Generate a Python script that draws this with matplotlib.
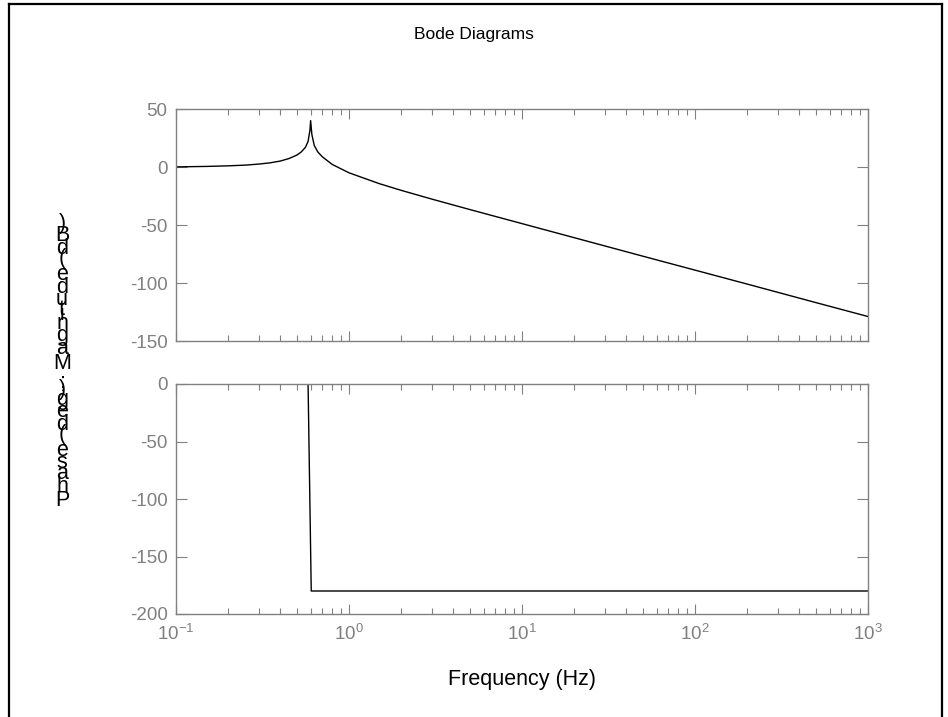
import matplotlib
matplotlib.use('Agg')
import matplotlib.pyplot as plt
from matplotlib.lines import Line2D
from matplotlib.ticker import LogLocator, NullFormatter
from matplotlib import font_manager

plt.rcParams['font.family'] = ['Liberation Sans', 'DejaVu Sans']
plt.rcParams['mathtext.default'] = 'regular'
plt.rcParams['axes.unicode_minus'] = False

# values
mag_freq = [0.1, 0.15, 0.2, 0.25, 0.3, 0.35, 0.4, 0.45, 0.5, 0.53, 0.56, 0.58,
            0.595, 0.6, 0.61, 0.63, 0.66, 0.7, 0.8, 1.0, 1.5, 2, 3, 5, 10,
            20, 50, 100, 200, 500, 1000]
mag_db = [0.1, 0.5, 1.0, 1.6, 2.5, 3.6, 5.1, 7.3, 10.3, 13.0, 17.0, 22.0,
          32.0, 40.0, 28.0, 18.5, 13.0, 8.9, 2.2, -5.0, -14.4, -20.1, -27.6,
          -36.7, -48.8, -60.9, -76.9, -88.9, -100.9, -116.9, -128.9]

phase_freq = [0.1, 0.58, 0.605, 1000]
phase_deg = [0, 0, -180, -180]

mag_ticks = [-150, -100, -50, 0, 50]
phase_ticks = [-200, -150, -100, -50, 0]

title = 'Bode Diagrams'
xlabel = 'Frequency (Hz)'
ylabel = 'Phase (deg); Magnitude (dB)'

grey = '#808080'
W, H = 948, 717
fig = plt.figure(figsize=(W / 100, H / 100), dpi=100)


def px(x0, y0, x1, y1):
    # pixel box (left, top, right, bottom) -> figure rect
    return [x0 / W, 1 - y1 / H, (x1 - x0) / W, (y1 - y0) / H]


ax1 = fig.add_axes(px(176, 109, 868, 341))
ax2 = fig.add_axes(px(176, 384, 868, 614))

ax1.plot(mag_freq, mag_db, color='black', lw=1.0)
ax2.plot(phase_freq, phase_deg, color='black', lw=1.0)

for ax, ticks in ((ax1, mag_ticks), (ax2, phase_ticks)):
    ax.set_xscale('log')
    ax.set_xlim(0.1, 1000)
    ax.set_ylim(ticks[0], ticks[-1])
    ax.set_yticks(ticks)
    ax.xaxis.set_major_locator(LogLocator(base=10, numticks=10))
    ax.xaxis.set_minor_locator(LogLocator(base=10, subs=range(2, 10), numticks=10))
    ax.xaxis.set_minor_formatter(NullFormatter())
    ax.tick_params(which='both', direction='in', top=True, right=True,
                   colors=grey, labelcolor=grey, labelsize=13.5, width=0.8)
    ax.tick_params(which='major', length=7)
    ax.tick_params(which='minor', length=4)
    ax.tick_params(axis='y', which='major', length=8, pad=6)
    ax.tick_params(axis='x', which='major', pad=7)
    for sp in ax.spines.values():
        sp.set_color(grey)
        sp.set_linewidth(1.0)

ax1.tick_params(labelbottom=False)

fig.text(0.5, 1 - 35 / H, title, ha='center', va='center', fontsize=12.5)
fig.text(522 / W, 1 - 680 / H, xlabel, ha='center', va='center', fontsize=15.5)

# stacked, upright y label characters (bottom to top)
fs = 15.5
prop = font_manager.FontProperties(family='Liberation Sans', size=fs)
try:
    font = font_manager.get_font(font_manager.findfont(prop))
    font.set_size(fs, 100)
    adv = [font.load_char(ord(c)).linearHoriAdvance / 65536 for c in ylabel]
except Exception:
    adv = [10.0] * len(ylabel)
centers = []
pos = 0.0
for a in adv:
    centers.append(pos + a / 2)
    pos += a
y_bot, y_top = 500, 224
scale = (y_bot - y_top) / (centers[-1] - centers[0])
for c, cpos in zip(ylabel, centers):
    if c == ' ':
        continue
    ypix = y_bot - (cpos - centers[0]) * scale
    fig.text(62 / W, 1 - ypix / H, c, ha='center', va='center',
             fontproperties=prop)

# figure frame
for xs, ys in (([9, 9], [4, H + 5]), ([9, 942], [4, 4]), ([942, 942], [4, H + 5])):
    fig.add_artist(Line2D([x / W for x in xs], [1 - y / H for y in ys],
                          color='black', lw=1.6, transform=fig.transFigure))

fig.savefig('out.png', dpi=100)
